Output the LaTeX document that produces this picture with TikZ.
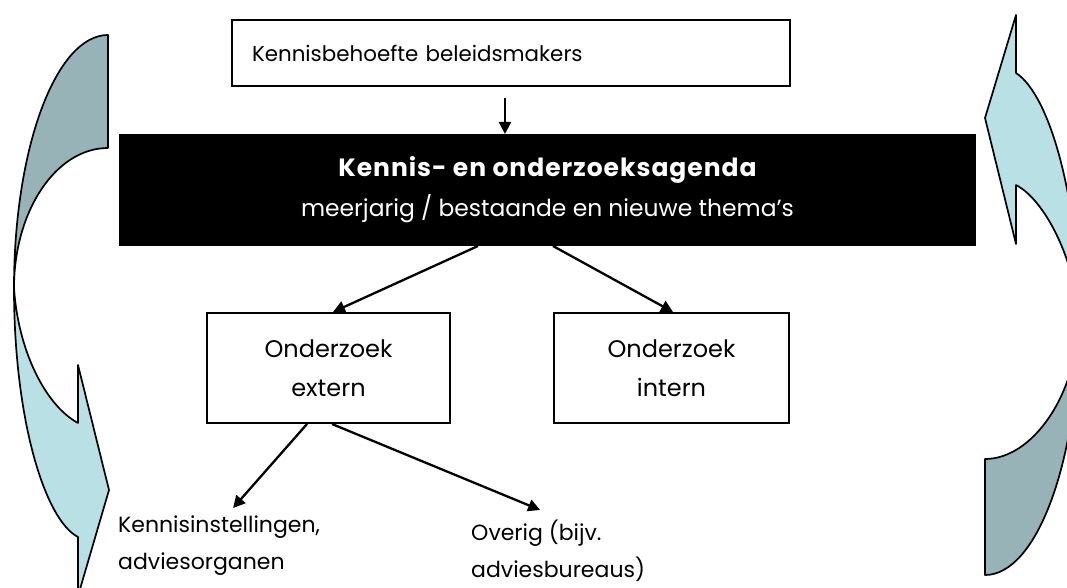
\documentclass[tikz,border=0pt]{standalone}
\usepackage{fontspec}
\setmainfont{Poppins}
\newfontfamily\agendafont[LetterSpace=4]{Poppins}
\usetikzlibrary{positioning,arrows.meta}

\definecolor{armdark}{HTML}{97B3B8}
\definecolor{armlight}{HTML}{B9E0E4}

\begin{document}
\begin{tikzpicture}[x=1pt,y=-1pt,
        box/.style={draw,line width=2pt,inner sep=0pt,
            font=\fontsize{24}{39}\selectfont},
        label/.style={font=\fontsize{22}{37}\selectfont,align=left,
            anchor=north west,inner sep=0pt},
        arr/.style={-{Triangle[length=12pt,width=12pt]},line width=2.3pt},
        arm/.style={draw=black,line width=1.7pt,line join=round}]
    \useasboundingbox (0,0) rectangle (1067,588);

    % curved arrows at the sides
    \begin{scope}
    \clip (0,0) rectangle (1067,588);
    \path[arm,fill=armdark] (108,35) .. controls (56,35) and (14,148) .. (14,288)
        .. controls (14,211) and (56,148) .. (108,148) -- cycle;
    \path[arm,fill=armlight] (14,288) .. controls (14,420) and (45,520) .. (78,537)
        -- (78,596) -- (109,490) -- (78,365) -- (78,423)
        .. controls (45,405) and (18,350) .. (14,288) -- cycle;
    \path[arm,fill=armlight] (1016,73) .. controls (1050,95) and (1079,200) .. (1079,318)
        .. controls (1075,260) and (1045,200) .. (1016,185)
        -- (1016,244) -- (985,118) -- (1016,15) -- cycle;
    \path[arm,fill=armdark] (1079,318) .. controls (1079,460) and (1037,575) .. (985,575)
        -- (985,459) .. controls (1032,459) and (1077,396) .. (1079,318) -- cycle;
    \end{scope}

    \node[box,minimum width=558pt,minimum height=66pt,text width=518pt,
        inner xsep=20pt,align=left,font=\fontsize{21.4}{26}\selectfont]
        (needs) at (511,53) {Kennisbehoefte beleidsmakers};
    \node[box,fill=black,text=white,minimum width=855pt,minimum height=110pt,
        align=center,font=\fontsize{23.4}{40}\selectfont] (agenda) at (547.5,190)
        {{\agendafont\bfseries\fontsize{25}{40}\selectfont Kennis- en onderzoeksagenda}\\
        meerjarig / bestaande en nieuwe thema’s};
    \node[box,minimum width=243pt,minimum height=110pt,align=center] (extern)
        at (328.5,368) {Onderzoek\\extern};
    \node[box,minimum width=235pt,minimum height=110pt,align=center] (intern)
        at (671.5,368) {Onderzoek\\intern};
    \node[label] (kennis) at (118,516) {Kennisinstellingen,\\adviesorganen};
    \node[label] (overig) at (471,520) {Overig (bijv.\\adviesbureaus)};

    \draw[arr] ([xshift=-6pt,yshift=-11pt]needs.south) -- ([xshift=-42.5pt]agenda.north);
    \draw[arr] ([xshift=-69.5pt]agenda.south) -- ([xshift=4.5pt]extern.north);
    \draw[arr] ([xshift=5.5pt]agenda.south) -- ([xshift=1.5pt]intern.north);
    \draw[arr] ([xshift=-21.5pt]extern.south) -- ([xshift=14pt,yshift=8pt]kennis.north);
    \draw[arr] ([xshift=3.5pt]extern.south) -- ([xshift=-18pt,yshift=10pt]overig.north);
\end{tikzpicture}
\end{document}
